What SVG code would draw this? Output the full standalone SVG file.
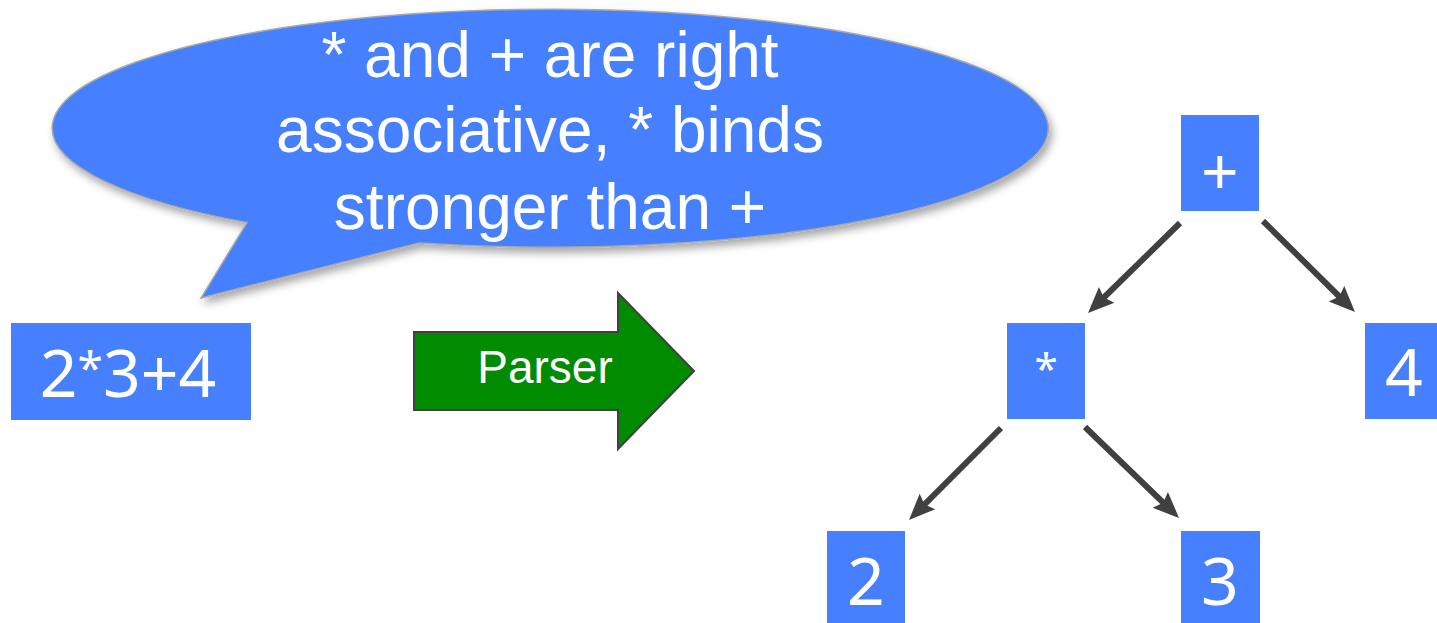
<svg xmlns="http://www.w3.org/2000/svg" width="1437" height="623" viewBox="0 0 1437 623">
  <defs>
    <style>
      .box { fill: #4680ff; }
      .num { font-family: "Noto Sans", "Open Sans", sans-serif; font-size: 66px; fill: #ffffff; text-anchor: middle; }
      .bub { font-family: "Liberation Sans", Arial, sans-serif; font-size: 64px; fill: #ffffff; text-anchor: middle; }
      .conn { stroke: #404040; stroke-width: 6; fill: none; marker-end: url(#ah); }
    </style>
    <marker id="ah" markerUnits="userSpaceOnUse" markerWidth="30" markerHeight="26" viewBox="0 -13 28 26" refX="16" refY="0" orient="auto">
      <path d="M0,-11 L26,0 L0,11 L4,0 Z" fill="#404040"/>
    </marker>
    <filter id="sh" x="-10%" y="-20%" width="125%" height="150%">
      <feDropShadow dx="3" dy="5" stdDeviation="4" flood-color="#000000" flood-opacity="0.35"/>
    </filter>
  </defs>
  <rect width="1437" height="623" fill="#ffffff"/>

  <g id="bubble">
    <path d="M247,222.6 L201,298 L419,243 A498,119 0 1 0 247,222.6 Z" fill="#4680ff" stroke="#a8a8a8" stroke-width="1.5" filter="url(#sh)"/>
    <text class="bub" x="550" y="77">* and + are right</text>
    <text class="bub" x="550" y="152">associative, * binds</text>
    <text class="bub" x="550" y="229">stronger than +</text>
  </g>

  <g id="input">
    <rect class="box" x="11" y="323" width="240" height="97"/>
    <text class="num" x="128" y="397">2<tspan style="font-size:46px" dy="-12">*</tspan><tspan dy="12">3+4</tspan></text>
  </g>

  <g id="parser">
    <path d="M414,332 L618,332 L618,293 L694,371 L618,449 L618,410 L414,410 Z" fill="#018b01" stroke="#404040" stroke-width="2"/>
    <text x="545" y="383" font-family="Liberation Sans, Arial, sans-serif" font-size="46" fill="#ffffff" text-anchor="middle">Parser</text>
  </g>

  <g id="node-plus">
    <rect class="box" x="1181" y="115" width="78" height="96"/>
    <text class="num" x="1220" y="195">+</text>
  </g>
  <g id="node-times">
    <rect class="box" x="1007" y="323" width="78" height="96"/>
    <text class="num" x="1046" y="384" style="font-size:42px">*</text>
  </g>
  <g id="node-4">
    <rect class="box" x="1365" y="323" width="78" height="96"/>
    <text class="num" x="1404" y="396">4</text>
  </g>
  <g id="node-2">
    <rect class="box" x="827" y="531" width="78" height="96"/>
    <text class="num" x="866" y="605">2</text>
  </g>
  <g id="node-3">
    <rect class="box" x="1181" y="531" width="79" height="96"/>
    <text class="num" x="1220" y="605">3</text>
  </g>

  <g id="connectors">
    <line class="conn" x1="1180" y1="223" x2="1095.2" y2="306.0"/>
    <line class="conn" x1="1263" y1="221" x2="1347.9" y2="305.0"/>
    <line class="conn" x1="1001" y1="428" x2="916.1" y2="512.9"/>
    <line class="conn" x1="1085" y1="427" x2="1171.8" y2="511.0"/>
  </g>
</svg>
